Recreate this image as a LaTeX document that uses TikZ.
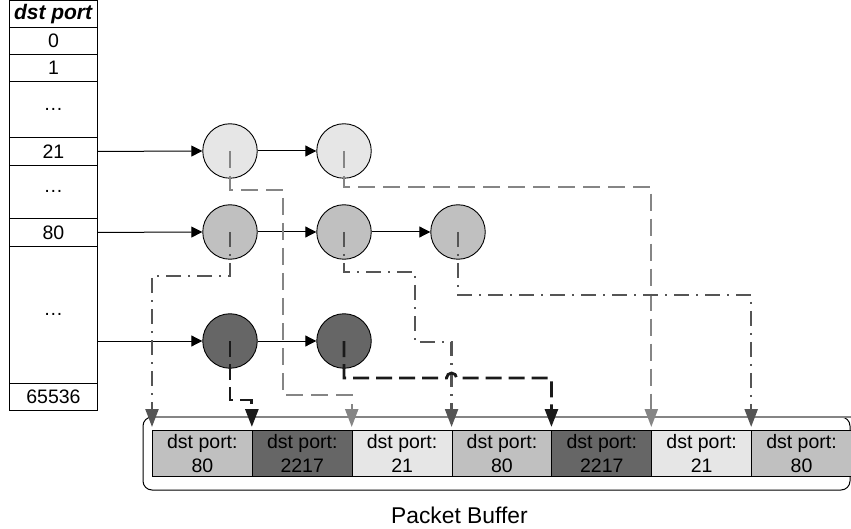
\documentclass[tikz,border=0pt]{standalone}
\usepackage{fontspec}
\setmainfont{Liberation Sans}
\usetikzlibrary{arrows.meta,calc}
\definecolor{lgray}{HTML}{E6E6E6}
\definecolor{mgray}{HTML}{C0C0C0}
\definecolor{dgray}{HTML}{666666}
\definecolor{lineA}{HTML}{858585}
\definecolor{lineB}{HTML}{555555}
\definecolor{lineC}{HTML}{1A1A1A}
\begin{document}
\begin{tikzpicture}[x=1pt,y=-1pt,
  font=\fontsize{19.5}{24}\selectfont,
  tcell/.style={draw=black, line width=0.9pt, minimum width=88pt, inner sep=0pt, anchor=north west},
  circ/.style={circle, draw=black, line width=0.9pt, minimum size=54.5pt, inner sep=0pt},
  pcell/.style={draw=black, line width=0.9pt, minimum width=99.86pt, minimum height=46.5pt, inner sep=0pt, anchor=north west, align=center},
  thinarrow/.style={draw=black, line width=1pt, -{Triangle[length=11pt,width=11pt]}},
  bigtip/.style={-{Triangle[length=18pt,width=13pt]}, shorten >=2.5pt},
  dashA/.style={draw=lineA, line width=2.3pt, dash pattern=on 17pt off 8pt, bigtip},
  dashB/.style={draw=lineB, line width=2.3pt, dash pattern=on 15pt off 7pt on 2pt off 7pt, bigtip},
  dashC/.style={draw=lineC, line width=2.8pt, dash pattern=on 16pt off 7pt, bigtip},
]
\useasboundingbox (0,0) rectangle (851,529);

% table
\node[tcell, minimum height=26.5pt, font=\fontsize{21}{24}\selectfont] (th) at (9,0.5) {\textbf{\textit{dst port}}};
\node[tcell, minimum height=27pt] (t0) at (9,27) {0};
\node[tcell, minimum height=27pt] (t1) at (9,54) {1};
\node[tcell, minimum height=56pt] (td1) at (9,81) {\dots};
\node[tcell, minimum height=28pt] (t21) at (9,137) {21};
\node[tcell, minimum height=53pt] (td2) at (9,165) {\dots};
\node[tcell, minimum height=28pt] (t80) at (9,218) {80};
\node[tcell, minimum height=137pt] (td3) at (9,246) {\dots};
\node[tcell, minimum height=27pt] (t65) at (9,383) {65536};

% circles
\node[circ, fill=lgray] (a1) at (230,151) {};
\node[circ, fill=lgray] (a2) at (344,151) {};
\node[circ, fill=mgray] (b1) at (230,232) {};
\node[circ, fill=mgray] (b2) at (344,232) {};
\node[circ, fill=mgray] (b3) at (458,232) {};
\node[circ, fill=dgray] (c1) at (230,341) {};
\node[circ, fill=dgray] (c2) at (344,341) {};

% thin arrows
\draw[thinarrow] (t21.east) -- (a1.west);
\draw[thinarrow] (t80.east) -- (b1.west);
\draw[thinarrow] (td3.east |- c1.west) -- (c1.west);
\draw[thinarrow] (a1.east) -- (a2.west);
\draw[thinarrow] (b1.east) -- (b2.west);
\draw[thinarrow] (b2.east) -- (b3.west);
\draw[thinarrow] (c1.east) -- (c2.west);

% packet buffer
\draw[black, line width=1pt, rounded corners=9pt] (143,417) rectangle (850,490);
\draw[lineA, line width=1.5pt] (152,417) -- (851,417);
\node[pcell, fill=mgray] (p1) at (152,429.5) {dst port:\\80};
\node[pcell, fill=dgray] (p2) at (251.86,429.5) {dst port:\\2217};
\node[pcell, fill=lgray] (p3) at (351.72,429.5) {dst port:\\21};
\node[pcell, fill=mgray] (p4) at (451.58,429.5) {dst port:\\80};
\node[pcell, fill=dgray] (p5) at (551.44,429.5) {dst port:\\2217};
\node[pcell, fill=lgray] (p6) at (651.3,429.5) {dst port:\\21};
\node[pcell, fill=mgray] (p7) at (751.16,429.5) {dst port:\\80};
\node[anchor=base west, inner sep=0pt, font=\fontsize{22.8}{27}\selectfont] (pb) at (391,523) {Packet Buffer};

% connectors
\draw[dashA] (a1.center) |- (283,190) -- (283,395) -| (p3.north west);
\draw[dashA] (a2.center) |- (650,187) -| (p6.north west);
\draw[dashB] (b1.center) |- (152,276) -| (p1.north west);
\draw[dashB] (b2.center) |- (415,272) -- (415,342) -| (p4.north west);
\draw[dashB] (b3.center) |- (749,295) -| (p7.north west);
\draw[dashC] (c1.center) |- (240,400) -| (p2.north west);
\draw[dashC] (c2.center) |- (446.58,378) arc (180:360:5) -| (p5.north west);
\end{tikzpicture}
\end{document}
